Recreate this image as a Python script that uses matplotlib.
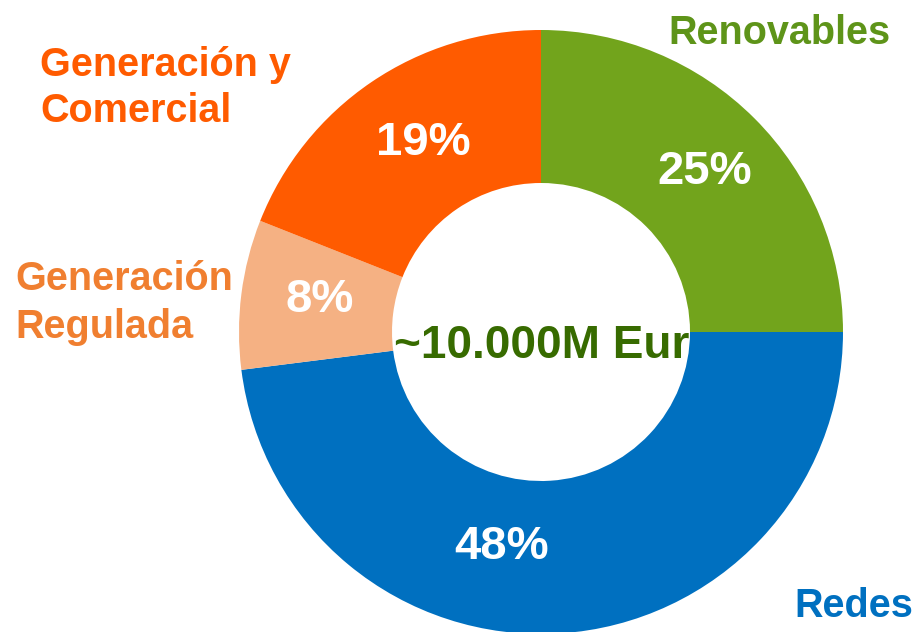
import matplotlib
matplotlib.use('Agg')
import matplotlib.pyplot as plt

# datos del grafico
categorias = ['Renovables', 'Redes', 'Generación\nRegulada', 'Generación y\nComercial']
valores = [25, 48, 8, 19]
colores = ['#72A41C', '#0070C0', '#F5B183', '#FF5B00']
colores_texto = ['#5E9419', '#0070C0', '#F07F30', '#FF5B00']
texto_centro = '~10.000M Eur'

W, H = 917, 632
plt.rcParams['font.family'] = ['Liberation Sans', 'DejaVu Sans']

fig = plt.figure(figsize=(W / 100, H / 100), dpi=100)
ax = fig.add_axes([0, 0, 1, 1])

# centro y radio en pixeles (y desde abajo)
cx, cy = 541, H - 332
R = 302
wedges, textos = ax.pie(valores, colors=colores, startangle=90, counterclock=False,
                        center=(cx, cy), radius=R,
                        wedgeprops=dict(width=R - 149, linewidth=0))

# porcentajes dentro del anillo
pos_pct = [(705, 172), (502, 547), (320, 300), (423, 143)]
for v, (x, y) in zip(valores, pos_pct):
    ax.text(x, H - y, f'{v}%', color='white', fontsize=34, fontweight='bold',
            ha='center', va='center')

# etiquetas de categoria
ax.text(779, H - 33, categorias[0], color=colores_texto[0], fontsize=28.5,
        fontweight='bold', ha='center', va='center')
ax.text(913, H - 606, categorias[1], color=colores_texto[1], fontsize=28.5,
        fontweight='bold', ha='right', va='center')
ax.text(15, H - 303, categorias[2], color=colores_texto[2], fontsize=28.5,
        fontweight='bold', ha='left', va='center', linespacing=1.35)
ax.text(40, H - 88, categorias[3], color=colores_texto[3], fontsize=28.5,
        fontweight='bold', ha='left', va='center', linespacing=1.3)

ax.text(cx + 1, cy - 14, texto_centro, color='#376B00', fontsize=33,
        fontweight='bold', ha='center', va='center')

ax.set_aspect('equal')
ax.set_xlim(0, W)
ax.set_ylim(0, H)
ax.axis('off')

plt.savefig('out.png', dpi=100, facecolor='white')
